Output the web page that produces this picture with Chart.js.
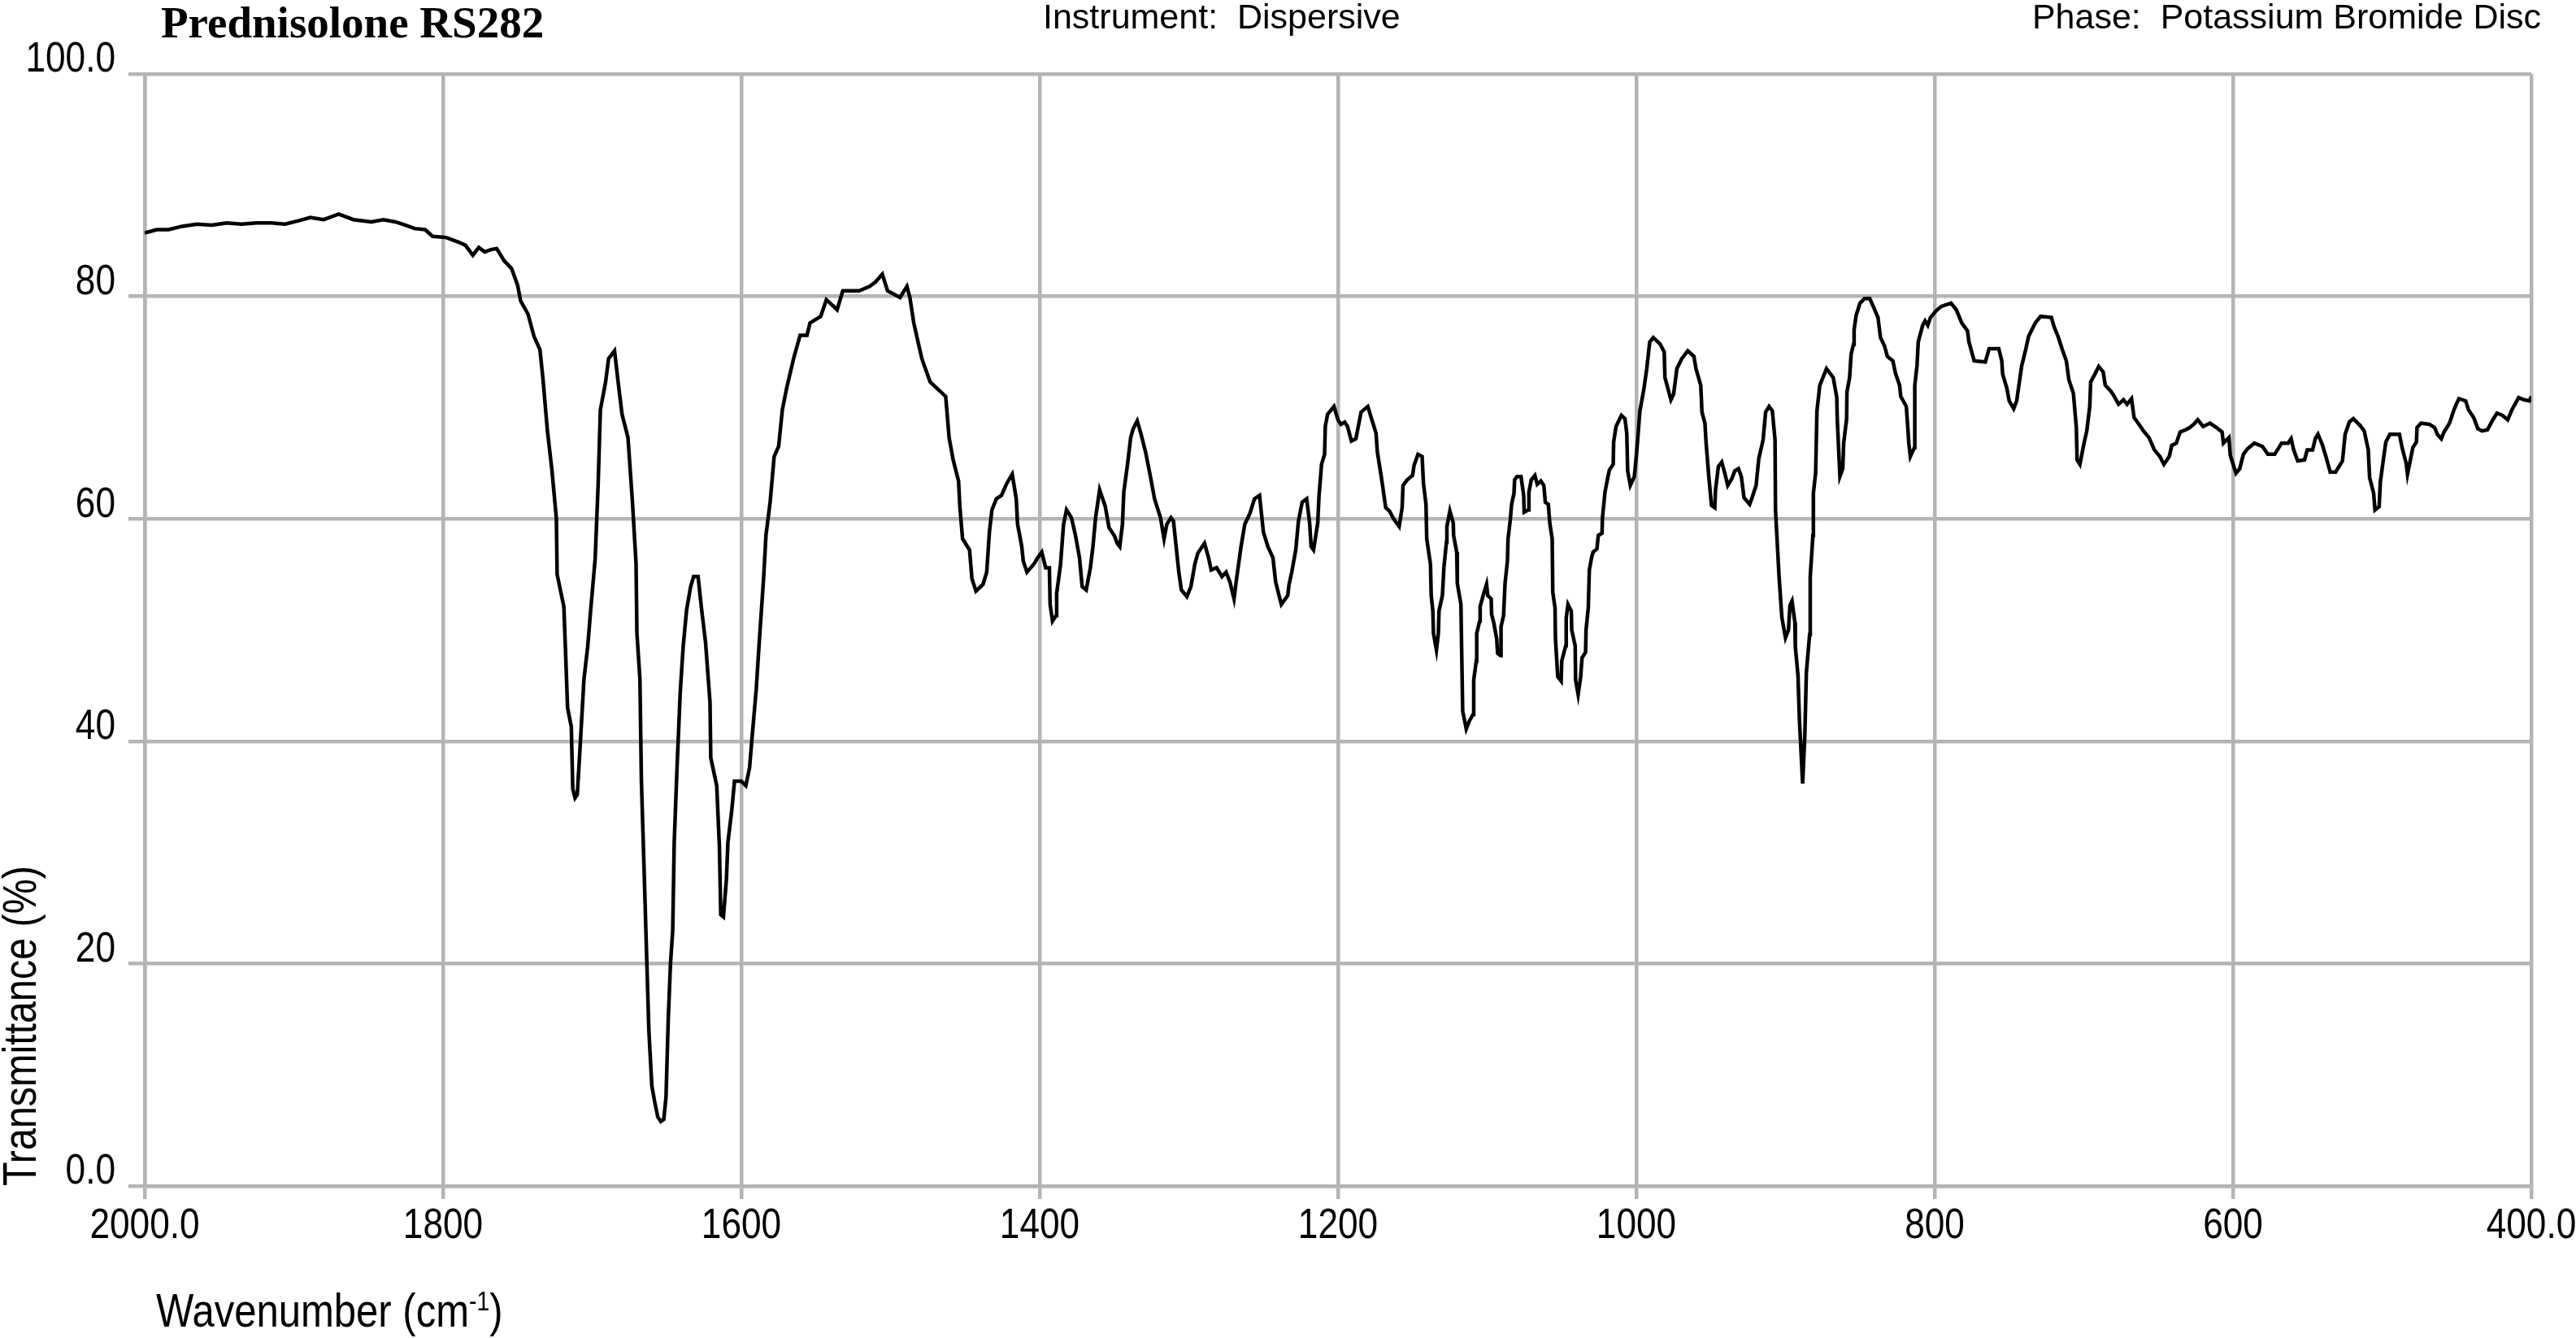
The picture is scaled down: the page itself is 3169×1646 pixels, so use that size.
<!DOCTYPE html>
<html>
<head>
<meta charset="utf-8">
<title>Prednisolone RS282</title>
<script src="https://cdn.jsdelivr.net/npm/chart.js@4.4.1/dist/chart.umd.min.js"></script>
<style>
  html, body { margin: 0; padding: 0; background: #fff; }
  #wrap { position: relative; width: 3169px; height: 1646px; overflow: hidden; }
  #wrap canvas { position: absolute; left: 0; top: 0; }
  .txt { position: absolute; white-space: pre; color: #000; }
  #title { left: 198px; top: 0px; font: bold 55px "Liberation Serif", serif; line-height: 55px; }
  #instrument { left: 1283px; top: -1px; font: 43px "Liberation Sans", sans-serif; line-height: 43px; }
  #phase { right: 43px; top: -1px; font: 43px "Liberation Sans", sans-serif; line-height: 43px; }
  /* no Arial Narrow here, so squeeze Liberation Sans instead */
  #xtitle { left: 192px; top: 1584px; font: 57px "Liberation Sans", sans-serif; line-height: 57px;
            transform: scaleX(0.86); transform-origin: 0 0; }
  #xtitle sup { font-size: 0.58em; vertical-align: 0.62em; line-height: 0; }
</style>
</head>
<body>
<div id="wrap">
  <canvas id="spectrum" width="3169" height="1646"></canvas>
  <div class="txt" id="title">Prednisolone RS282</div>
  <div class="txt" id="instrument">Instrument:  Dispersive</div>
  <div class="txt" id="phase">Phase:  Potassium Bromide Disc</div>
  <div class="txt" id="xtitle">Wavenumber (cm<sup>-1</sup>)</div>
</div>
<script>
// IR spectrum (wavenumber in cm-1, transmittance in %)
const wavenumber = [
  2000, 1992, 1984, 1975, 1965, 1955, 1945, 1935, 1925, 1915,
  1906, 1897, 1889, 1880, 1870, 1860, 1848, 1840, 1832, 1825,
  1819, 1812, 1807, 1798, 1790, 1785, 1780, 1776, 1772, 1768,
  1764, 1759, 1754, 1750, 1748, 1743, 1739, 1735, 1733, 1730,
  1727, 1724, 1723.5, 1719, 1718, 1716.5, 1714, 1713, 1711.5, 1710,
  1708, 1705.5, 1703, 1701, 1698, 1696, 1694.5, 1691, 1689, 1685,
  1682.6, 1680, 1676, 1673, 1670.6, 1670, 1668, 1667, 1665, 1664,
  1662, 1660, 1658, 1656, 1654, 1652, 1650.5, 1649, 1647.5, 1646,
  1645, 1643, 1641, 1639, 1636.7, 1634, 1632, 1629, 1626.6, 1624,
  1621, 1620.5, 1616.5, 1614.7, 1613.8, 1612, 1610, 1609, 1606.4, 1604.6,
  1600, 1597, 1594.5, 1592.7, 1590, 1588, 1585, 1583.5, 1580.7, 1578,
  1575, 1572.5, 1569.7, 1565, 1560.6, 1556, 1554, 1546.8, 1543, 1535.8,
  1532, 1521, 1514, 1510, 1505.5, 1502, 1493.6, 1489, 1487, 1484.4,
  1479, 1473.4, 1467, 1463, 1460.7, 1458, 1454.4, 1453.5, 1451.7, 1447,
  1445.4, 1442.7, 1438, 1435.5, 1433.7, 1432, 1429, 1425.6, 1422, 1418.4,
  1415.7, 1414.8, 1412, 1411, 1408.5, 1404, 1401.3, 1398.6, 1396, 1393.5,
  1393, 1391.4, 1389, 1388.6, 1386, 1384, 1382, 1378.7, 1376, 1373.3,
  1371.5, 1368.8, 1366, 1364.3, 1362.5, 1359.8, 1356, 1353.5, 1350, 1348,
  1346.3, 1344.5, 1343.6, 1341, 1339, 1337.3, 1334.6, 1332, 1329, 1325.6,
  1323, 1319, 1316.6, 1314.8, 1312, 1310.3, 1308.5, 1306.7, 1305, 1301.3,
  1298.6, 1296, 1294, 1289.5, 1286.8, 1285, 1281.4, 1277.8, 1275, 1272.4,
  1269.7, 1268, 1265, 1262.5, 1259, 1256, 1252.6, 1250, 1247, 1243.6,
  1241.8, 1238, 1233.7, 1232.8, 1231, 1228.3, 1226.5, 1224, 1221, 1219,
  1218, 1216.4, 1213.6, 1212.7, 1211, 1209, 1208.5, 1207, 1202.7, 1200,
  1198, 1195.5, 1193.6, 1191, 1188, 1186.4, 1184.5, 1180, 1177.3, 1174.5,
  1173.6, 1171, 1168, 1165.5, 1162.7, 1159, 1157, 1156.4, 1153.6, 1150,
  1149, 1146.4, 1143.6, 1142.7, 1141, 1140.5, 1138, 1137.5, 1136.4, 1136,
  1134, 1132.7, 1132.3, 1130, 1129, 1127.3, 1127, 1125, 1122.7, 1122.5,
  1120.4, 1120, 1117.6, 1117, 1116.4, 1114, 1112, 1109.5, 1109, 1107.3,
  1107, 1105, 1104.7, 1102.7, 1100.4, 1099.6, 1097.3, 1097, 1095.5, 1093.6,
  1093, 1091, 1090.7, 1089, 1088, 1086.4, 1086, 1084.5, 1083.6, 1082,
  1081.6, 1080, 1077.3, 1075.5, 1075.2, 1072.4, 1072, 1070.4, 1068, 1066.4,
  1064, 1062, 1061, 1059, 1058, 1056.4, 1056, 1054.5, 1054.2, 1052.7,
  1050.4, 1050, 1047.3, 1047, 1045.8, 1043.6, 1043.3, 1041, 1040.7, 1039,
  1037.3, 1036.4, 1034, 1033.7, 1032.2, 1031.5, 1030, 1029, 1026.4, 1025.5,
  1023, 1022.7, 1021, 1019, 1018, 1015.5, 1015.2, 1013.6, 1010, 1007.6,
  1006.4, 1005.8, 1004, 1001.3, 999.5, 997.6, 995, 993, 991, 988.6,
  984, 981.3, 980.8, 978.6, 976.8, 975, 972.8, 969.5, 965.5, 961.4,
  960, 956.8, 956, 954, 953.2, 951.4, 949.6, 947.4, 946.9, 945,
  942.7, 940.5, 938.7, 936, 934, 931.5, 929.6, 927.8, 924, 922.4,
  919.7, 917.9, 915, 913.3, 911, 908.8, 907, 906.7, 904.3, 902.4,
  900, 898, 897, 895.6, 893.7, 893.4, 891.6, 890.7, 888.5, 887,
  886, 883.8, 883.4, 881.6, 881.3, 879.8, 878.9, 877, 872.5, 868,
  865.6, 865.3, 863.5, 861.6, 861, 859, 858.8, 857, 856, 854.4,
  854, 852.6, 850, 847, 843.5, 840.8, 838, 836.3, 833.5, 831.7,
  828, 826.3, 823.5, 822.7, 819, 818, 817.3, 816.3, 813.6, 813.3,
  811.8, 811, 808, 806.4, 804.6, 802.8, 799, 795.5, 789, 785.5,
  781.8, 778, 777, 773.5, 766, 763.5, 757, 755, 754.4, 751.7,
  750, 747, 745, 741.7, 739, 737, 732.6, 729, 721.7, 720,
  717, 714.4, 711.7, 710, 707, 705, 704.5, 702.6, 700, 698,
  696, 695.4, 692.6, 690, 687, 685.6, 682, 680, 676.7, 673.4,
  671, 668, 666.3, 663.6, 660, 656.3, 652.7, 649, 646.3, 642.7,
  641, 638, 635.4, 631.8, 629, 626.3, 623.6, 620, 615.4, 611,
  607.3, 606.4, 602.7, 601.8, 598, 595.5, 593, 590.2, 585.7, 580.2,
  576.6, 572, 567.4, 563, 561, 559.3, 556.6, 552, 550.2, 546.6,
  544.8, 543, 540.2, 537.5, 534.8, 531.2, 526.6, 524.8, 522, 519.3,
  514.8, 512, 509.3, 508.4, 505.7, 504.8, 502, 501.2, 499.3, 497.5,
  494.8, 488.4, 486.6, 483.9, 483, 481.2, 479.4, 477, 476.6, 473.9,
  468.4, 464.8, 463, 460.3, 458.5, 454.8, 452.1, 450.3, 448.5, 444,
  442.1, 438.6, 435.8, 433, 429.4, 425.8, 423, 419.4, 415.8, 413,
  408.5, 404.9, 401.3, 400
];

const transmittance = [
  85.7, 86.0, 86.0, 86.3, 86.5, 86.4, 86.6, 86.5, 86.6, 86.6,
  86.5, 86.8, 87.1, 86.9, 87.4, 86.9, 86.7, 86.9, 86.7, 86.4,
  86.1, 86.0, 85.4, 85.3, 84.9, 84.6, 83.7, 84.4, 84.0, 84.2,
  84.3, 83.2, 82.5, 81.0, 79.6, 78.4, 76.4, 75.2, 72.6, 67.9,
  64.4, 60.0, 55.0, 52.1, 48.6, 43.0, 41.3, 35.7, 34.9, 35.2,
  39.7, 45.6, 48.5, 51.8, 56.4, 63.1, 69.8, 72.3, 74.4, 75.1,
  72.3, 69.4, 67.3, 61.5, 56.0, 49.7, 45.6, 36.4, 27.6, 23.0,
  14.0, 9.0, 7.5, 6.2, 5.8, 6.0, 8.0, 15.0, 20.0, 23.0,
  30.9, 38.0, 44.3, 48.5, 51.8, 53.9, 54.8, 54.8, 51.8, 48.9,
  43.5, 38.5, 36.0, 30.5, 24.4, 24.2, 27.6, 30.9, 33.8, 36.4,
  36.4, 36.0, 37.6, 40.5, 44.7, 48.9, 54.8, 58.5, 61.5, 65.6,
  66.5, 69.8, 71.7, 74.4, 76.5, 76.5, 77.6, 78.2, 79.7, 78.8,
  80.5, 80.5, 80.9, 81.3, 82.0, 80.5, 79.9, 80.9, 79.9, 77.6,
  74.4, 72.3, 71.5, 71.0, 67.3, 65.3, 63.4, 61.1, 58.2, 57.2,
  54.6, 53.5, 54.1, 55.2, 58.8, 60.8, 61.8, 62.1, 63.2, 64.0,
  61.8, 59.5, 57.5, 56.2, 55.2, 55.9, 56.5, 57.0, 55.6, 55.6,
  52.3, 50.8, 51.3, 53.3, 55.9, 59.5, 60.8, 60.1, 58.5, 56.5,
  53.9, 53.6, 55.6, 57.5, 60.1, 62.6, 61.1, 59.2, 58.5, 57.8,
  57.5, 59.5, 62.4, 65.0, 67.3, 68.1, 68.8, 67.6, 66.0, 63.7,
  61.8, 60.1, 58.2, 59.5, 60.1, 59.8, 57.5, 55.2, 53.6, 53.0,
  53.9, 55.9, 56.9, 57.8, 56.5, 55.4, 55.6, 54.8, 55.2, 54.3,
  52.8, 54.6, 57.5, 59.5, 60.5, 61.8, 62.1, 58.8, 57.5, 56.5,
  54.3, 52.3, 53.1, 54.1, 55.2, 57.2, 59.8, 61.5, 61.8, 59.6,
  57.5, 57.2, 59.6, 62.1, 64.9, 65.8, 68.3, 69.4, 70.1, 68.9,
  68.5, 68.7, 68.3, 67.0, 67.2, 68.3, 69.6, 70.1, 68.9, 67.7,
  66.0, 63.8, 61.0, 60.7, 60.0, 59.3, 61.0, 63.0, 63.5, 63.9,
  64.8, 65.8, 65.6, 63.2, 61.3, 58.2, 55.9, 53.1, 51.7, 49.7,
  48.2, 49.7, 51.7, 53.1, 55.6, 57.9, 59.3, 60.7, 59.6, 58.5,
  57.0, 54.2, 52.3, 47.5, 42.7, 41.1, 41.8, 42.4, 45.5, 47.2,
  49.7, 50.8, 52.1, 53.1, 54.1, 53.1, 52.8, 51.4, 50.6, 49.2,
  47.9, 47.7, 50.3, 51.3, 54.2, 56.2, 58.2, 59.9, 61.3, 62.3,
  63.5, 63.8, 63.8, 62.1, 60.6, 60.8, 62.4, 63.5, 63.9, 63.1,
  63.4, 63.0, 61.5, 61.3, 59.6, 58.2, 53.4, 52.0, 49.2, 45.8,
  45.4, 47.2, 48.6, 51.1, 52.3, 51.7, 50.0, 48.6, 45.5, 44.2,
  45.8, 47.5, 48.0, 50.0, 52.0, 55.4, 56.5, 57.0, 57.3, 58.5,
  58.7, 60.1, 62.4, 63.8, 64.4, 64.9, 66.9, 68.3, 69.3, 69.0,
  67.7, 64.3, 63.0, 63.8, 66.4, 69.7, 71.6, 73.5, 75.9, 76.3,
  75.7, 75.0, 72.7, 71.6, 70.7, 71.2, 73.5, 74.4, 75.1, 74.6,
  73.5, 72.0, 69.6, 68.6, 66.8, 63.8, 61.2, 61.0, 62.6, 64.7,
  65.1, 64.0, 63.0, 63.6, 64.3, 64.5, 63.8, 61.9, 61.3, 61.9,
  63.0, 65.4, 67.1, 69.6, 70.1, 69.7, 67.1, 60.8, 54.8, 51.1,
  49.3, 50.0, 52.2, 52.6, 50.7, 48.5, 45.9, 42.1, 36.2, 40.6,
  46.2, 49.6, 54.8, 58.5, 62.3, 64.1, 69.7, 72.0, 73.5, 72.7,
  70.9, 69.0, 63.8, 64.5, 66.8, 69.0, 71.4, 72.7, 74.8, 75.7,
  77.0, 78.3, 79.4, 79.8, 79.8, 79.0, 78.1, 76.3, 75.5, 74.6,
  74.2, 73.1, 72.0, 71.0, 70.1, 68.2, 66.8, 65.6, 66.4, 72.0,
  73.8, 75.9, 77.4, 77.8, 77.4, 78.1, 78.7, 79.1, 79.4, 78.8,
  77.6, 76.9, 75.9, 74.2, 74.1, 75.3, 75.3, 74.2, 73.0, 71.8,
  70.6, 69.9, 70.6, 73.7, 75.2, 76.4, 77.6, 78.2, 78.1, 77.3,
  76.3, 75.2, 74.2, 72.5, 71.3, 68.2, 65.3, 64.9, 66.7, 67.9,
  70.1, 72.3, 73.0, 73.7, 73.2, 72.0, 71.5, 71.1, 70.3, 70.7,
  70.3, 70.8, 69.1, 68.6, 67.9, 67.3, 66.2, 65.6, 64.9, 65.6,
  66.6, 66.8, 67.8, 68.0, 68.2, 68.5, 68.9, 68.3, 68.6, 68.2,
  67.8, 66.8, 67.3, 65.7, 64.1, 64.5, 65.8, 66.3, 66.8, 66.5,
  65.8, 65.8, 66.8, 66.8, 67.2, 66.2, 65.2, 65.3, 66.2, 66.2,
  67.2, 67.6, 66.7, 65.5, 64.2, 64.2, 65.2, 67.6, 68.7, 69.0,
  68.4, 67.9, 66.2, 63.7, 62.3, 60.8, 61.1, 63.3, 65.2, 66.9,
  67.6, 67.6, 66.4, 65.0, 64.0, 65.2, 66.4, 66.9, 68.2, 68.6,
  68.5, 68.2, 67.6, 67.2, 67.8, 68.6, 69.7, 70.3, 70.8, 70.6,
  69.8, 69.1, 68.1, 67.9, 68.0, 68.9, 69.5, 69.3, 68.9, 69.8,
  70.9, 70.7, 70.6, 71.0
];

const xTicks = [2000, 1800, 1600, 1400, 1200, 1000, 800, 600, 400];
const xTickLabels = ['2000.0', '1800', '1600', '1400', '1200', '1000', '800', '600', '400.0'];
const yTicks = [0, 20, 40, 60, 80, 100];
const yTickLabels = ['0.0', '20', '40', '60', '80', '100.0'];

const GRID = '#b4b4b4';
const SANS = '"Liberation Sans", Arial, sans-serif';
const SQUEEZE = 0.85; // fake Arial Narrow: squeeze axis text horizontally

if (wavenumber.length !== transmittance.length) {
  console.warn('data length mismatch', wavenumber.length, transmittance.length);
}

// wrap a scale's draw method so every fillText in it is squeezed around its anchor
function squeezeText(scale, method) {
  const orig = scale[method].bind(scale);
  scale[method] = function (...args) {
    const ctx = this.ctx;
    const fill = CanvasRenderingContext2D.prototype.fillText;
    ctx.fillText = function (text, x, y, maxWidth) {
      this.save();
      this.translate(x, y);
      this.scale(SQUEEZE, 1);
      fill.call(this, text, 0, 0, maxWidth);
      this.restore();
    };
    try { orig(...args); } finally { delete ctx.fillText; }
  };
}

const narrowAxisText = {
  id: 'narrowAxisText',
  beforeDraw(chart) {
    Object.values(chart.scales).forEach(s => {
      if (s._squeezed) return;
      s._squeezed = true;
      squeezeText(s, 'drawLabels');
      squeezeText(s, 'drawTitle');
    });
  }
};

const points = wavenumber.map((w, i) => ({ x: w, y: transmittance[i] }));

new Chart(document.getElementById('spectrum'), {
  type: 'line',
  data: {
    datasets: [{
      data: points,
      borderColor: '#000',
      borderWidth: 4.5,
      pointRadius: 0,
      tension: 0,
      fill: false
    }]
  },
  options: {
    responsive: false,
    animation: false,
    layout: { padding: { top: 91, right: 55, left: 0, bottom: 0 } },
    plugins: {
      legend: { display: false },
      tooltip: { enabled: false }
    },
    scales: {
      x: {
        type: 'linear',
        reverse: true,
        min: 400,
        max: 2000,
        afterBuildTicks: (s) => { s.ticks = xTicks.map(v => ({ value: v })); },
        // fixed axis height, and don't let the end labels shrink the plot area
        afterFit: (s) => { s.height = 187; s.paddingLeft = 0; s.paddingRight = 0; },
        ticks: {
          callback: (v, i) => xTickLabels[i],
          font: { family: SANS, size: 52 },
          color: '#000',
          padding: 2,
          maxRotation: 0,
          autoSkip: false
        },
        grid: { color: GRID, lineWidth: 4.5, tickLength: 16 },
        border: { color: GRID, width: 4.5 }
      },
      y: {
        min: 0,
        max: 100,
        afterBuildTicks: (s) => { s.ticks = yTicks.map(v => ({ value: v })); },
        afterFit: (s) => { s.width = 178; s.paddingTop = 0; s.paddingBottom = 0; },
        ticks: {
          callback: (v, i) => yTickLabels[i],
          font: { family: SANS, size: 52 },
          color: '#000',
          padding: 16,
          labelOffset: -17
        },
        grid: { color: GRID, lineWidth: 4.5, tickLength: 20 },
        border: { color: GRID, width: 4.5 },
        title: {
          display: true,
          text: 'Transmittance (%)',
          align: 'start',
          color: '#000',
          font: { family: SANS, size: 57, lineHeight: 1 },
          padding: 0
        }
      }
    }
  },
  plugins: [narrowAxisText]
});
</script>
</body>
</html>
